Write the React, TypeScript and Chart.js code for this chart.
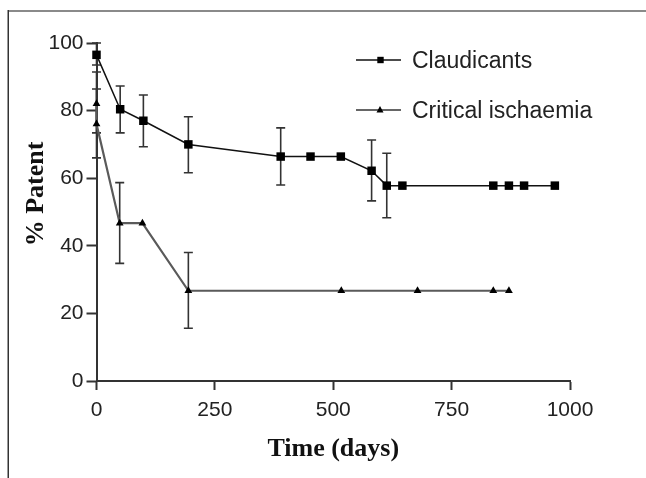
import React, { useEffect, useRef } from "react";
import { Chart, registerables } from "chart.js";

Chart.register(...registerables);

// ---- data ----
const seriesNames = ["Claudicants", "Critical ischaemia"];
const claudDays = [0, 50, 99, 194, 389, 452, 516, 581, 613, 646, 838, 871, 903, 968];
const claudPatent = [96.5, 80.4, 77, 70, 66.4, 66.4, 66.4, 62.2, 57.8, 57.8, 57.8, 57.8, 57.8, 57.8];
const claudUpper = [100, 87.3, 84.6, 78.2, 74.9, null, null, 71.3, 67.4, null, null, null, null, null];
const claudLower = [93.5, 73.4, 69.3, 61.6, 58, null, null, 53.3, 48.3, null, null, null, null, null];
const critDays = [0, 0, 49, 97, 194, 517, 678, 838, 871];
const critPatent = [82, 76, 46.7, 46.7, 26.7, 26.7, 26.7, 26.7, 26.7];
const critUpper = [91.4, 86.4, 58.7, null, 38, null, null, null, null];
const critLower = [73.4, 66, 34.8, null, 15.6, null, null, null, null];
const xTickValues = [0, 250, 500, 750, 1000];
const yTickValues = [0, 20, 40, 60, 80, 100];
const xTitle = "Time (days)";
const yTitle = "% Patent";

const errorSets = [
  { upper: claudUpper, lower: claudLower },
  { upper: critUpper, lower: critLower },
];

const sansFont = "'Liberation Sans', Arial, sans-serif";
const serifFont = "'Liberation Serif', 'Times New Roman', serif";

const decorPlugin = {
  id: "decor",
  beforeDraw(chart: any) {
    const ctx = chart.ctx;
    ctx.save();
    ctx.strokeStyle = "#8a8a8a";
    ctx.lineWidth = 2;
    ctx.beginPath();
    ctx.moveTo(8, 11);
    ctx.lineTo(646, 11);
    ctx.stroke();
    ctx.strokeStyle = "#333";
    ctx.lineWidth = 1.5;
    ctx.beginPath();
    ctx.moveTo(8.25, 10);
    ctx.lineTo(8.25, 478);
    ctx.stroke();
    ctx.restore();
  },
  beforeDatasetsDraw(chart: any) {
    const ctx = chart.ctx;
    const xs = chart.scales.x;
    const ys = chart.scales.y;
    ctx.save();
    ctx.strokeStyle = "#333";
    ctx.lineWidth = 1.6;
    chart.data.datasets.forEach((ds: any, i: number) => {
      const e = errorSets[i];
      ds.data.forEach((pt: any, j: number) => {
        const hi = e.upper[j];
        const lo = e.lower[j];
        if (hi == null || lo == null) return;
        const px = xs.getPixelForValue(pt.x);
        const pyH = ys.getPixelForValue(hi);
        const pyL = ys.getPixelForValue(lo);
        ctx.beginPath();
        ctx.moveTo(px, pyH);
        ctx.lineTo(px, pyL);
        ctx.moveTo(px - 4.5, pyH);
        ctx.lineTo(px + 4.5, pyH);
        ctx.moveTo(px - 4.5, pyL);
        ctx.lineTo(px + 4.5, pyL);
        ctx.stroke();
      });
    });
    ctx.restore();
  },
  afterDraw(chart: any) {
    const ctx = chart.ctx;
    const area = chart.chartArea;
    ctx.save();
    ctx.fillStyle = "#111";
    ctx.font = `bold 26px ${serifFont}`;
    ctx.textAlign = "center";
    ctx.textBaseline = "alphabetic";
    ctx.fillText(xTitle, (area.left + area.right) / 2, 456);
    ctx.save();
    ctx.translate(43, 194);
    ctx.rotate(-Math.PI / 2);
    ctx.fillText(yTitle, 0, 0);
    ctx.restore();

    const items = [
      { name: seriesNames[0], y: 60, style: "rect", color: "#111" },
      { name: seriesNames[1], y: 110, style: "triangle", color: "#333" },
    ];
    items.forEach((it) => {
      ctx.strokeStyle = it.color;
      ctx.lineWidth = 1.5;
      ctx.beginPath();
      ctx.moveTo(356, it.y);
      ctx.lineTo(401, it.y);
      ctx.stroke();
      ctx.fillStyle = "#000";
      if (it.style === "rect") {
        ctx.fillRect(380.5 - 3.2, it.y - 3.2, 6.4, 6.4);
      } else {
        ctx.beginPath();
        ctx.moveTo(380, it.y - 4);
        ctx.lineTo(383.5, it.y + 2.5);
        ctx.lineTo(376.5, it.y + 2.5);
        ctx.closePath();
        ctx.fill();
      }
      ctx.fillStyle = "#222";
      ctx.font = `23px ${sansFont}`;
      ctx.textAlign = "left";
      ctx.textBaseline = "alphabetic";
      ctx.fillText(it.name, 412, it.y + 8);
    });
    ctx.restore();
  },
};

export default function App() {
  const ref = useRef<HTMLCanvasElement | null>(null);
  useEffect(() => {
    if (!ref.current) return;
    const chart = new Chart(ref.current, {
      type: "line",
      data: {
        datasets: [
          {
            label: seriesNames[0],
            data: claudDays.map((d, i) => ({ x: d, y: claudPatent[i] })),
            borderColor: "#111",
            borderWidth: 1.5,
            backgroundColor: "#000",
            pointStyle: "rect",
            pointRadius: 6,
            pointBorderWidth: 0,
            pointBackgroundColor: "#000",
            tension: 0,
            clip: false as any,
          },
          {
            label: seriesNames[1],
            data: critDays.map((d, i) => ({ x: d, y: critPatent[i] })),
            borderColor: "#5a5a5a",
            borderWidth: 2.2,
            backgroundColor: "#000",
            pointStyle: "triangle",
            pointRadius: 4.5,
            pointBorderWidth: 0,
            pointBackgroundColor: "#000",
            tension: 0,
            clip: false as any,
          },
        ],
      },
      options: {
        responsive: false,
        animation: false,
        devicePixelRatio: 1,
        layout: { padding: { top: 43, right: 76, left: 0, bottom: 0 } },
        plugins: { legend: { display: false }, tooltip: { enabled: false } },
        scales: {
          x: {
            type: "linear",
            min: 0,
            max: 1000,
            afterFit: (s: any) => {
              s.height = 97;
            },
            afterBuildTicks: (s: any) => {
              s.ticks = xTickValues.map((v) => ({ value: v }));
            },
            grid: {
              drawOnChartArea: false,
              drawTicks: true,
              tickLength: 9,
              tickColor: "#333",
              tickWidth: 2,
            },
            border: { display: true, color: "#333", width: 2 },
            ticks: {
              padding: 8,
              color: "#222",
              font: { family: sansFont, size: 21 },
              maxRotation: 0,
              callback: (v: any) => String(v),
            },
          },
          y: {
            type: "linear",
            min: 0,
            max: 100,
            afterFit: (s: any) => {
              s.width = 96.5;
            },
            afterBuildTicks: (s: any) => {
              s.ticks = yTickValues.map((v) => ({ value: v }));
            },
            grid: {
              drawOnChartArea: false,
              drawTicks: true,
              tickLength: 10,
              tickColor: "#333",
              tickWidth: 2,
            },
            border: { display: true, color: "#333", width: 2 },
            ticks: {
              padding: 3,
              color: "#222",
              font: { family: sansFont, size: 21 },
              callback: (v: any) => String(v),
            },
          },
        },
      },
      plugins: [decorPlugin],
    });
    return () => chart.destroy();
  }, []);
  return (
    <div style={{ position: "fixed", left: 0, top: 0, width: 646, height: 478, background: "#fff" }}>
      <canvas ref={ref} width={646} height={478} style={{ display: "block", width: 646, height: 478 }} />
    </div>
  );
}
